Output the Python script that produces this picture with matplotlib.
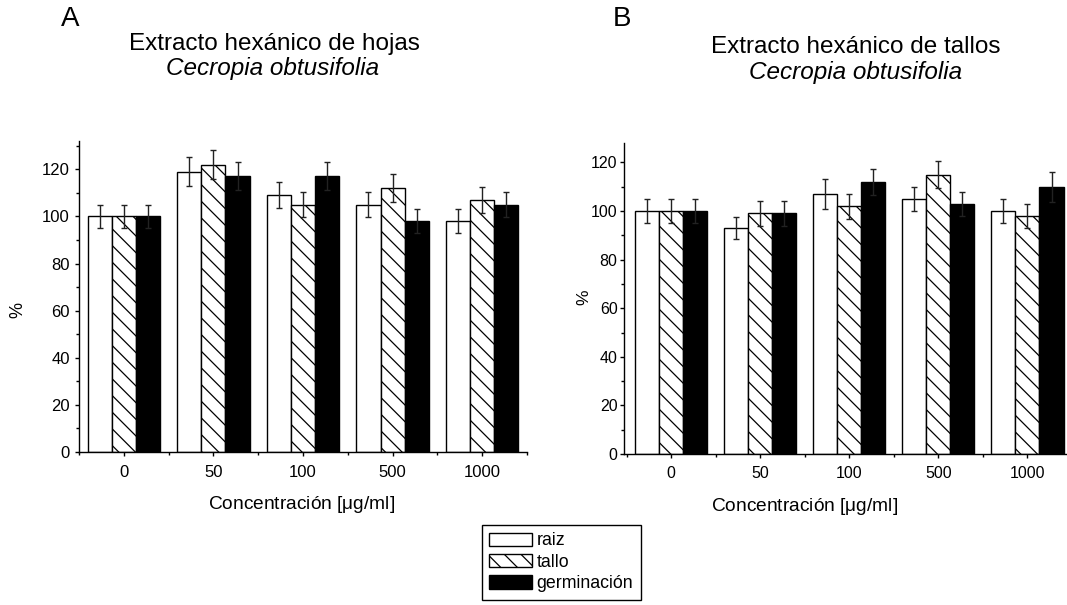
import numpy as np
import matplotlib
matplotlib.use('Agg')
from matplotlib import pyplot as plt
from matplotlib.ticker import MultipleLocator

plt.rcParams['font.family'] = ['Liberation Sans', 'DejaVu Sans']
plt.rcParams['hatch.linewidth'] = 0.9
plt.rcParams['axes.linewidth'] = 1.0

conc = ['0', '50', '100', '500', '1000']
series = ['raiz', 'tallo', 'germinación']

# panel A: extracto de hojas
a_raiz = [100, 119, 109, 105, 98]
a_raiz_err = [5, 6, 5.5, 5.3, 5]
a_tallo = [100, 122, 105, 112, 107]
a_tallo_err = [5, 6, 5.4, 5.8, 5.4]
a_germ = [100, 117, 117, 98, 105]
a_germ_err = [5, 6, 6, 5, 5.2]

# panel B: extracto de tallos
b_raiz = [100, 93, 107, 105, 100]
b_raiz_err = [5, 4.6, 6, 5, 5]
b_tallo = [100, 99, 102, 115, 98]
b_tallo_err = [5, 5, 5.1, 5.7, 4.8]
b_germ = [100, 99, 112, 103, 110]
b_germ_err = [5, 5, 5.3, 4.9, 6.1]

W, H = 1067, 605
fig = plt.figure(figsize=(W/100., H/100.), dpi=100)

styles = [dict(color='white', edgecolor='black', hatch=None),
          dict(color='white', edgecolor='black', hatch='\\\\'),
          dict(color='black', edgecolor='black', hatch=None)]


def panel(rect, vals, errs, ylim_top, xlim_left, tick_len, ypad, fsize):
    ax = fig.add_axes(rect)
    x = np.arange(len(conc))
    w = 0.27
    handles = []
    for k in range(3):
        b = ax.bar(x + (k - 1)*w, vals[k], w, linewidth=1.0, label=series[k], zorder=2, **styles[k])
        handles.append(b)
        ax.errorbar(x + (k - 1)*w, vals[k], yerr=errs[k], fmt='none', ecolor='#222222',
                    elinewidth=1.0, capsize=2.2, capthick=1.0, zorder=3)
    ax.set_xlim(xlim_left, 4.5)
    ax.set_ylim(0, ylim_top)
    ax.set_xticks(x)
    ax.set_xticklabels(conc)
    ax.xaxis.set_minor_locator(MultipleLocator(0.5))
    ax.set_yticks([0, 20, 40, 60, 80, 100, 120])
    ax.yaxis.set_minor_locator(MultipleLocator(10))
    ax.spines['right'].set_visible(False)
    ax.spines['top'].set_visible(False)
    ax.tick_params(axis='both', which='major', direction='out', length=tick_len, width=1.0, labelsize=fsize)
    ax.tick_params(axis='both', which='minor', direction='out', length=2.0, width=1.0)
    ax.tick_params(axis='x', which='major', pad=6.0)
    ax.tick_params(axis='y', which='major', pad=ypad)
    return ax, handles


axA, hA = panel([79/W, 1 - 452/H, 448/W, 311/H],
                [a_raiz, a_tallo, a_germ], [a_raiz_err, a_tallo_err, a_germ_err],
                132, -0.5, 3.2, 3.5, 12)
axB, hB = panel([624/W, 1 - 454/H, 448/W, 311/H],
                [b_raiz, b_tallo, b_germ], [b_raiz_err, b_tallo_err, b_germ_err],
                128, -0.53, 2.6, 2.0, 11.5)

axA.set_ylabel('%', fontsize=13)
axA.yaxis.set_label_coords(26/W, 1 - 310/H, transform=fig.transFigure)
axB.set_ylabel('%', fontsize=12.5)
axB.yaxis.set_label_coords(591/W, 1 - 297/H, transform=fig.transFigure)

axA.set_xlabel('Concentración [$\\mathregular{\\mu}$g/ml]', fontsize=13.8)
axA.xaxis.set_label_coords(302/W, 1 - 494/H, transform=fig.transFigure)
axB.set_xlabel('Concentración [$\\mathregular{\\mu}$g/ml]', fontsize=13.8)
axB.xaxis.set_label_coords(805/W, 1 - 496/H, transform=fig.transFigure)

fig.text(70/W, 1 - 19/H, 'A', fontsize=20, ha='center', va='center')
fig.text(274/W, 1 - 44/H, 'Extracto hexánico de hojas', fontsize=17.5, ha='center', va='center')
fig.text(273/W, 1 - 69/H, 'Cecropia obtusifolia', fontsize=17.5, style='italic', ha='center', va='center')

fig.text(622/W, 1 - 19/H, 'B', fontsize=20, ha='center', va='center')
fig.text(856/W, 1 - 47/H, 'Extracto hexánico de tallos', fontsize=17.5, ha='center', va='center')
fig.text(856/W, 1 - 72/H, 'Cecropia obtusifolia', fontsize=17.5, style='italic', ha='center', va='center')

leg = fig.legend(handles=hA, labels=series, loc='upper left',
                 bbox_to_anchor=(482/W, 1 - 525/H), bbox_transform=fig.transFigure,
                 borderaxespad=0, borderpad=0.42, handlelength=2.4, handleheight=0.78,
                 handletextpad=0.25, labelspacing=0.25, fontsize=12.8,
                 fancybox=False, framealpha=1, edgecolor='black')
leg.get_frame().set_linewidth(1.0)

fig.savefig('out.png', dpi=100)
